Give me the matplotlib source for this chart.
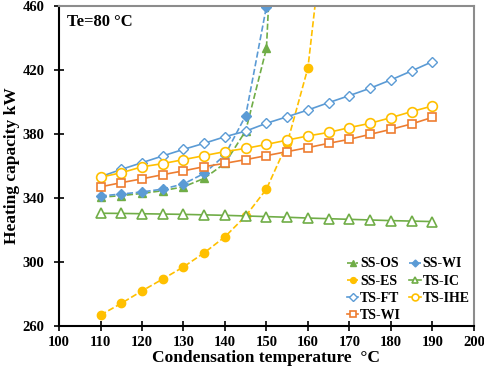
import matplotlib
matplotlib.use('Agg')
import matplotlib.pyplot as plt

plt.rcParams['font.family'] = ['Liberation Serif', 'DejaVu Serif']
plt.rcParams['font.weight'] = 'bold'

t = [110, 115, 120, 125, 130, 135, 140, 145, 150, 155, 160, 165, 170, 175, 180, 185, 190]

# single-stage cycles (values above 460 run off the chart)
t_ss = [110, 115, 120, 125, 130, 135, 140, 145, 150, 155]
ss_os = [340.5, 341.5, 342.9, 344.6, 347, 352.3, 361.7, 382, 433.5, 700]
ss_wi = [341.3, 342.5, 343.8, 345.6, 348.8, 355.4, 366.9, 391.5, 459.6, 650]
t_es = [110, 115, 120, 125, 130, 135, 140, 145, 150, 155, 160, 165]
ss_es = [266.9, 274.2, 282, 289.4, 297, 305.8, 315.8, 328.8, 345.6, 374.2, 421.3, 535]

# two-stage cycles
ts_ic = [330.5, 330.4, 330.2, 330, 329.8, 329.5, 329.2, 328.8, 328.4, 328, 327.5, 327.1, 326.7, 326.3, 325.9, 325.6, 325.3]
ts_ft = [353.3, 357.9, 362.1, 366.3, 370.4, 374.2, 378.3, 381.8, 386.7, 390.8, 395, 399.6, 404, 408.6, 413.8, 419.4, 425.2]
ts_ihe = [353, 355.8, 359.5, 361.5, 364, 366.5, 369, 371, 373.5, 376.2, 378.8, 381, 384, 386.7, 390.2, 394, 397.5]
ts_wi = [347, 349.6, 352, 354.6, 357, 359.6, 361.7, 364, 366.5, 369, 371.5, 374.2, 376.7, 379.8, 382.9, 386.3, 390.4]

green = '#70AD47'
blue = '#5B9BD5'
yellow = '#FFC000'
orange = '#ED7D31'

fig = plt.figure(figsize=(4.84, 3.71), dpi=100)
ax = fig.add_axes([0.122, 0.121, 0.857, 0.863])

ms = 6
lw = 1.2
h_ss_os, = ax.plot(t_ss, ss_os, '--', color=green, lw=lw, marker='^', ms=ms, label='SS-OS')
h_ss_wi, = ax.plot(t_ss, ss_wi, '--', color=blue, lw=lw, marker='D', ms=ms - 1, label='SS-WI')
h_ss_es, = ax.plot(t_es, ss_es, '--', color=yellow, lw=lw, marker='o', ms=ms, label='SS-ES')
h_ts_ic, = ax.plot(t, ts_ic, '-', color=green, lw=lw, marker='^', ms=ms + 1, mfc='white', mew=1.2, label='TS-IC')
h_ts_ft, = ax.plot(t, ts_ft, '-', color=blue, lw=lw, marker='D', ms=ms - 0.5, mfc='white', mew=1.0, label='TS-FT')
h_ts_ihe, = ax.plot(t, ts_ihe, '-', color=yellow, lw=lw, marker='o', ms=ms + 1, mfc='white', mew=1.2, label='TS-IHE')
h_ts_wi, = ax.plot(t, ts_wi, '-', color=orange, lw=lw, marker='s', ms=ms, mfc='white', mew=1.2, label='TS-WI')

ax.set_xlim(100, 200)
ax.set_ylim(260, 460)
ax.set_xticks(range(100, 201, 10))
ax.set_yticks(range(260, 461, 40))
ax.tick_params(direction='inout', length=7, width=1.2, labelsize=10.5)
ax.tick_params(axis='y', pad=7)
for lab in ax.get_xticklabels() + ax.get_yticklabels():
    lab.set_fontweight('bold')

for s in ['left', 'bottom']:
    ax.spines[s].set_color('black')
    ax.spines[s].set_linewidth(1.5)
for s in ['top', 'right']:
    ax.spines[s].set_color('#8C8C8C')
    ax.spines[s].set_linewidth(1.5)

ax.set_xlabel('Condensation temperature  \u00b0C', fontsize=12.5, fontweight='bold', labelpad=1)
ax.set_ylabel('Heating capacity kW', fontsize=12.5, fontweight='bold', labelpad=2)

ax.text(0.02, 0.975, 'Te=80 \u00b0C', transform=ax.transAxes, fontsize=12,
        fontweight='bold', va='top', ha='left')

handles = [h_ss_os, h_ss_es, h_ts_ft, h_ts_wi, h_ss_wi, h_ts_ic, h_ts_ihe]
ax.legend(handles=handles, labels=[h.get_label() for h in handles], ncol=2,
          loc='lower right', bbox_to_anchor=(1.02, -0.026), frameon=False,
          handlelength=0.8, handletextpad=0.15, columnspacing=0.6,
          labelspacing=0.3, markerscale=0.7, prop={'weight': 'bold', 'size': 10})

fig.savefig('out.png', dpi=100)
